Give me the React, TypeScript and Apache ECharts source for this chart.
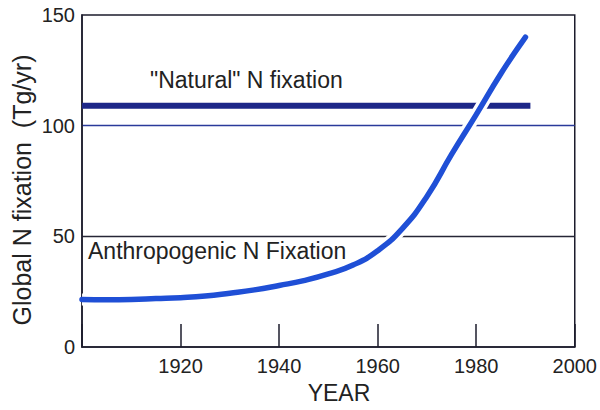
import React, { useEffect, useRef } from "react";
import * as echarts from "echarts";

const years = [1900, 1905, 1910, 1915, 1920, 1925, 1930, 1935, 1940, 1945, 1950, 1955, 1960, 1965, 1970, 1975, 1980, 1985, 1990];
const anthropogenic = [21.5, 21.4, 21.5, 21.9, 22.3, 23, 24.3, 25.8, 27.8, 30, 33, 37, 43.5, 53.5, 68, 87, 105, 123.5, 140];
const naturalYears = [1900, 1991];
const naturalValues = [109, 109];
const yTicks = [0, 50, 100, 150];
const xTickLabels = [1920, 1940, 1960, 1980, 2000];

export default function App() {
  const ref = useRef<HTMLDivElement>(null);
  useEffect(() => {
    if (!ref.current) return;
    const chart = echarts.init(ref.current, null, { renderer: "svg" });
    const curve = years.map((y, i) => [y, anthropogenic[i]]);
    const nat = naturalYears.map((y, i) => [y, naturalValues[i]]);
    const font = "'Liberation Sans', Arial, sans-serif";
    const ink = "#1c1c2c";
    chart.setOption({
      animation: false,
      backgroundColor: "#ffffff",
      grid: { left: 82, right: 21, top: 15, bottom: 63, show: true, borderColor: ink, borderWidth: 1.5, backgroundColor: "transparent" },
      xAxis: {
        type: "value",
        min: 1900,
        max: 2000,
        interval: 20,
        axisLine: { show: true, lineStyle: { color: ink, width: 1.5 } },
        axisTick: { show: true, inside: true, length: 23, lineStyle: { color: ink, width: 1.5 } },
        axisLabel: {
          fontSize: 20,
          color: "#222",
          fontFamily: font,
          margin: 9,
          formatter: (v: number) => (xTickLabels.includes(v) ? String(v) : ""),
        },
        splitLine: { show: false },
      },
      yAxis: {
        type: "value",
        min: 0,
        max: 150,
        interval: 50,
        axisLine: { show: true, lineStyle: { color: ink, width: 1.5 } },
        axisTick: { show: false },
        axisLabel: {
          fontSize: 20,
          color: "#222",
          fontFamily: font,
          margin: 7,
          formatter: (v: number) => (yTicks.includes(v) ? String(v) : ""),
        },
        splitLine: {
          show: true,
          lineStyle: { color: ["transparent", "#262636", "#2a3a9a", "transparent"], width: 1.4 },
        },
      },
      series: [
        {
          type: "line",
          data: nat,
          symbol: "none",
          lineStyle: { color: "#1d2788", width: 6 },
          z: 2,
        },
        {
          type: "line",
          data: curve,
          smooth: 0.5,
          symbol: "none",
          lineStyle: { color: "#ffffff", width: 12 },
          z: 3,
        },
        {
          type: "line",
          data: curve,
          smooth: 0.5,
          symbol: "none",
          lineStyle: { color: "#1f4fd6", width: 5.5, cap: "round" },
          z: 4,
        },
      ],
      graphic: [
        {
          type: "text",
          left: 150,
          top: 68,
          z: 10,
          style: { text: '"Natural" N fixation', fontSize: 23, fill: "#222", fontFamily: font },
        },
        {
          type: "text",
          left: 88,
          top: 239,
          z: 10,
          style: { text: "Anthropogenic N Fixation", fontSize: 23, fill: "#222", fontFamily: font },
        },
        {
          type: "text",
          x: 339,
          y: 393,
          z: 10,
          style: { text: "YEAR", fontSize: 23, fill: "#222", fontFamily: font, align: "center", verticalAlign: "middle" },
        },
        {
          type: "text",
          x: 22,
          y: 190,
          rotation: Math.PI / 2,
          z: 10,
          style: { text: "Global N fixation  (Tg/yr)", fontSize: 25, fill: "#222", fontFamily: font, align: "center", verticalAlign: "middle" },
        },
      ],
    });
    return () => chart.dispose();
  }, []);
  return <div ref={ref} style={{ width: 600, height: 410, position: "absolute", left: 0, top: 0 }} />;
}
